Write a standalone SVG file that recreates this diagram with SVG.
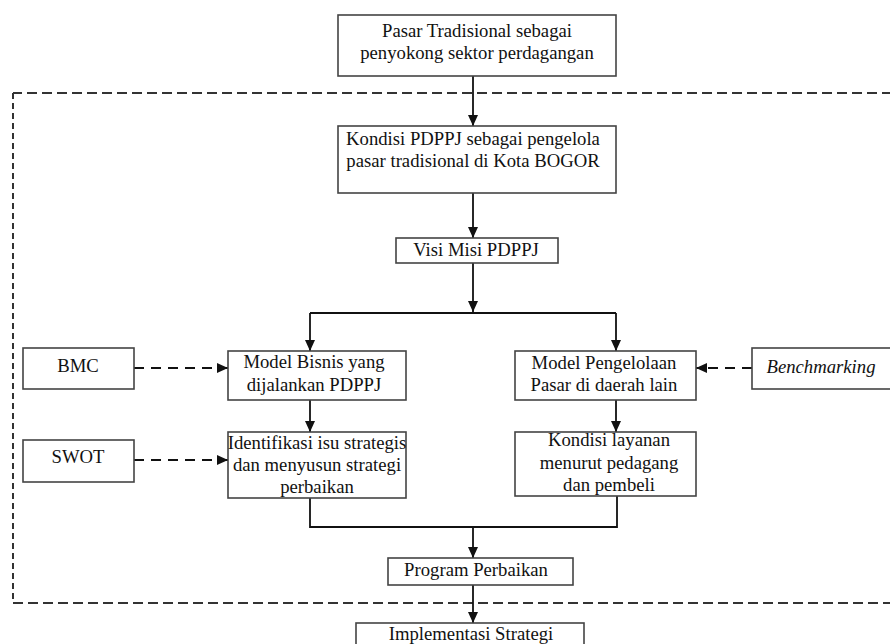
<svg xmlns="http://www.w3.org/2000/svg" width="890" height="644" viewBox="0 0 890 644">
<style>
  .box{fill:#fff;stroke:#444;stroke-width:1.6}
  .t{font-family:"Liberation Serif","Times New Roman",serif;font-size:18.7px;fill:#111;text-anchor:middle}
  .it{font-style:italic}
  .ln{fill:none;stroke:#111;stroke-width:1.8}
  .dl{fill:none;stroke:#111;stroke-width:1.8;stroke-dasharray:10,7}
  .frame{fill:none;stroke:#333;stroke-width:2}
</style>
<defs>
  <marker id="ah" markerUnits="userSpaceOnUse" markerWidth="11" markerHeight="10" refX="11" refY="5" orient="auto">
    <path d="M0,0 L11,5 L0,10 z" fill="#111"/>
  </marker>
</defs>
<rect width="890" height="644" fill="#fff"/>
<g id="frame">
  <path class="frame" d="M892,93 H13" stroke-dasharray="10,5"/>
  <path class="frame" d="M13,93 V603" stroke-dasharray="6,4"/>
  <path class="frame" d="M13,603 H892" stroke-dasharray="10,5"/>
</g>
<g id="connectors">
  <path class="ln" d="M473,76 V126" marker-end="url(#ah)"/>
  <path class="ln" d="M473,193 V238" marker-end="url(#ah)"/>
  <path class="ln" d="M473,263 V312" marker-end="url(#ah)"/>
  <path class="ln" d="M310,313 H616"/>
  <path class="ln" d="M310,313 V351" marker-end="url(#ah)"/>
  <path class="ln" d="M616,313 V351" marker-end="url(#ah)"/>
  <path class="ln" d="M310,400 V432" marker-end="url(#ah)"/>
  <path class="ln" d="M616,400 V432" marker-end="url(#ah)"/>
  <path class="dl" d="M134,368 H228" marker-end="url(#ah)"/>
  <path class="dl" d="M134,460 H228" marker-end="url(#ah)"/>
  <path class="dl" d="M752,368 H696" marker-end="url(#ah)"/>
  <path class="ln" d="M310,498 V527 H617 V496"/>
  <path class="ln" d="M473,527 V558" marker-end="url(#ah)"/>
  <path class="ln" d="M473,585 V623" marker-end="url(#ah)"/>
</g>
<g id="n1">
  <rect class="box" x="338" y="15" width="278" height="61"/>
  <text class="t" x="477" y="37">Pasar Tradisional sebagai</text>
  <text class="t" x="477" y="59">penyokong sektor perdagangan</text>
</g>
<g id="n2">
  <rect class="box" x="338" y="126" width="278" height="67"/>
  <text class="t" x="473" y="145">Kondisi PDPPJ sebagai pengelola</text>
  <text class="t" x="473" y="167">pasar tradisional di Kota BOGOR</text>
</g>
<g id="n3">
  <rect class="box" x="396" y="238" width="162" height="25"/>
  <text class="t" x="476" y="256">Visi Misi PDPPJ</text>
</g>
<g id="n4">
  <rect class="box" x="228" y="351" width="178" height="49"/>
  <text class="t" x="314" y="368">Model Bisnis yang</text>
  <text class="t" x="314" y="391">dijalankan PDPPJ</text>
</g>
<g id="n5">
  <rect class="box" x="515" y="351" width="181" height="49"/>
  <text class="t" x="604" y="369">Model Pengelolaan</text>
  <text class="t" x="604" y="391">Pasar di daerah lain</text>
</g>
<g id="n6">
  <rect class="box" x="23" y="348" width="111" height="41"/>
  <text class="t" x="78" y="372">BMC</text>
</g>
<g id="n7">
  <rect class="box" x="752" y="348" width="140" height="41"/>
  <text class="t it" x="821" y="373">Benchmarking</text>
</g>
<g id="n8">
  <rect class="box" x="23" y="440" width="111" height="42"/>
  <text class="t" x="78" y="463">SWOT</text>
</g>
<g id="n9">
  <rect class="box" x="228" y="432" width="178" height="66"/>
  <text class="t" x="317" y="449">Identifikasi isu strategis</text>
  <text class="t" x="317" y="471">dan menyusun strategi</text>
  <text class="t" x="317" y="493">perbaikan</text>
</g>
<g id="n10">
  <rect class="box" x="515" y="432" width="181" height="64"/>
  <text class="t" x="609" y="446">Kondisi layanan</text>
  <text class="t" x="609" y="469">menurut pedagang</text>
  <text class="t" x="609" y="491">dan pembeli</text>
</g>
<g id="n11">
  <rect class="box" x="388" y="558" width="185" height="27"/>
  <text class="t" x="476" y="576">Program Perbaikan</text>
</g>
<g id="n12">
  <rect class="box" x="356" y="623" width="228" height="30"/>
  <text class="t" x="471" y="640">Implementasi Strategi</text>
</g>
</svg>
